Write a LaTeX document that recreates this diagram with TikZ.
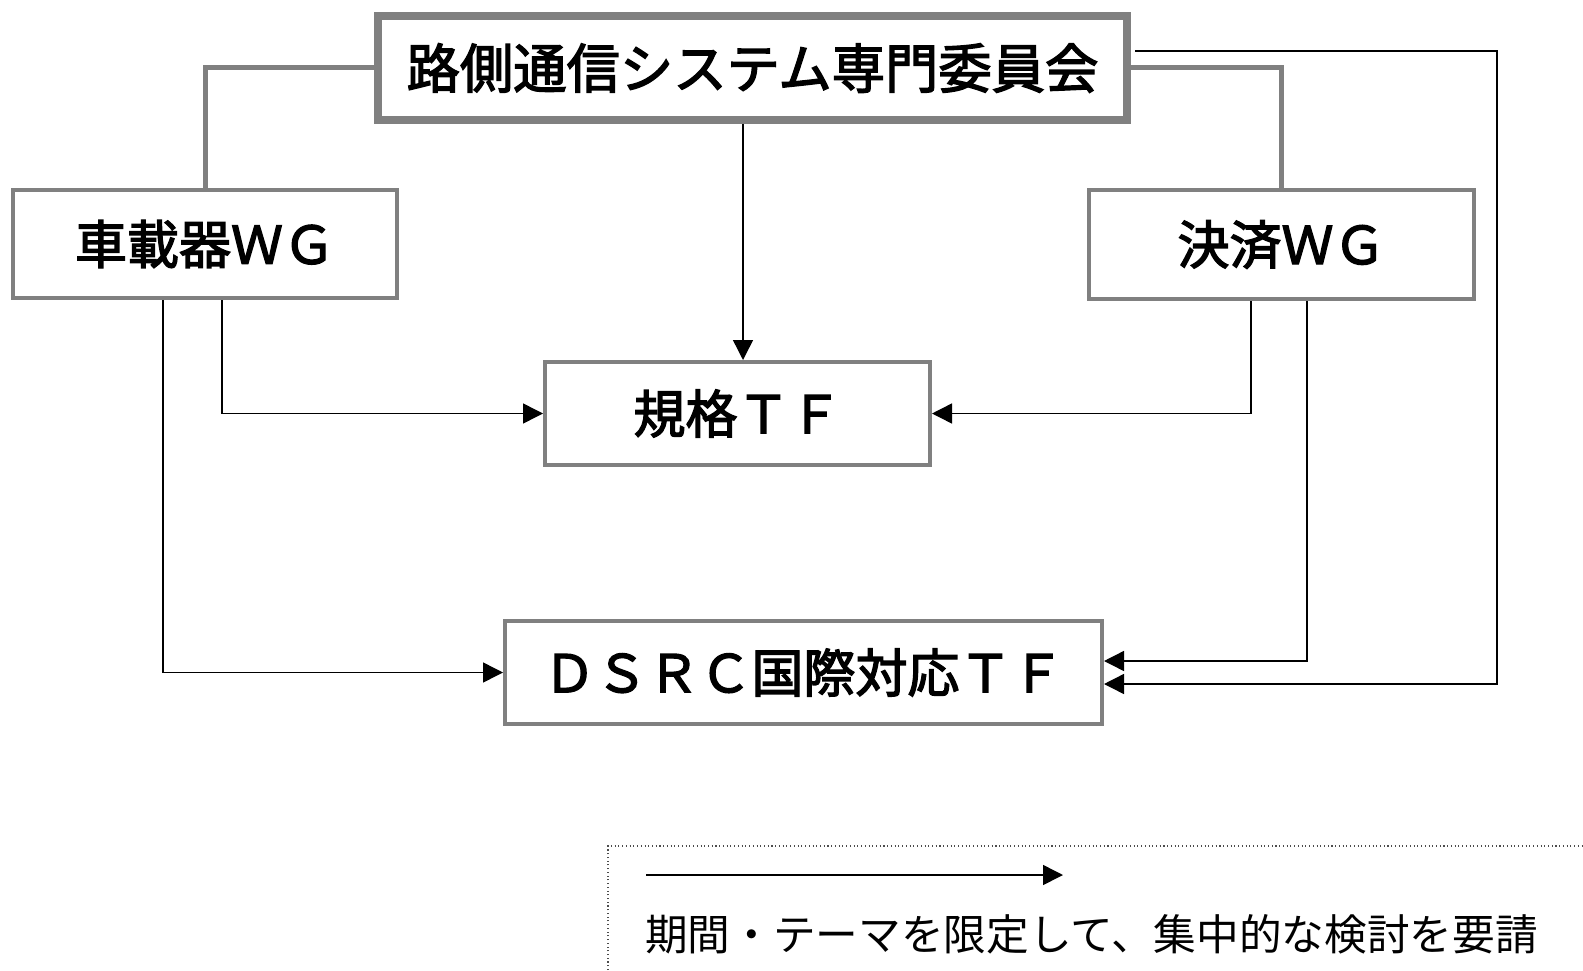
\documentclass[tikz,border=0pt]{standalone}
\usepackage{fontspec}
\newfontfamily\jp{Noto Sans CJK JP}
\newfontfamily\jpm[FakeBold=2.6]{Noto Sans CJK JP}
\usetikzlibrary{arrows.meta}
\definecolor{boxgray}{HTML}{808080}
\tikzset{
  px/.style={x=0.75pt,y=-0.75pt},
  orgbox/.style={draw=boxgray,line width=3pt,fill=white,inner sep=0pt,font=\jpm\fontsize{39}{44}\selectfont},
  topbox/.style={orgbox,line width=6pt,font=\jpm\fontsize{40}{46}\selectfont},
  tree/.style={draw=boxgray,line width=3.75pt},
  req/.style={draw=black,line width=1.1pt,-{Triangle[length=15pt,width=15pt]}},
  legendtext/.style={font=\jp\fontsize{32}{38}\selectfont,inner sep=0pt,anchor=west}
}
\begin{document}
\begin{tikzpicture}[px]
\useasboundingbox (0,0) rectangle (1583,970);
% nodes
\node[topbox,minimum width=561.75pt,minimum height=78pt] (top) at (752.5,68) {路側通信システム専門委員会};
\node[orgbox,minimum width=288pt,minimum height=81pt] (veh) at (205,244) {車載器ＷＧ};
\node[orgbox,minimum width=288.75pt,minimum height=81.75pt] (pay) at (1281.5,244.5) {決済ＷＧ};
\node[orgbox,minimum width=288.75pt,minimum height=77.25pt] (std) at (737.5,413.5) {規格ＴＦ};
\node[orgbox,minimum width=447.75pt,minimum height=77.25pt] (dsrc) at (803.5,672.5) {ＤＳＲＣ国際対応ＴＦ};
% tree lines
\draw[tree] (top.west) -| (veh.north);
\draw[tree] (top.east) -| (pay.north);
% request arrows
\draw[req] (top.south -| 743,0) -- (std.north -| 743,0);
\draw[req] (veh.south -| 222,0) |- (std.west);
\draw[req] (veh.south -| 163,0) |- (dsrc.west);
\draw[req] (pay.south -| 1251,0) |- (std.east);
\draw[req] (pay.south -| 1307,0) |- (dsrc.east |- 0,661);
\coordinate (trs) at ([xshift=3pt]top.east);
\coordinate (rc) at (1497,51);
\draw[req] (trs |- rc) -- (rc) |- (dsrc.east |- 0,684);
% legend
\draw[black!70,line width=0.8pt,dotted] (608,970) -- (608,846) -- (1583,846);
\coordinate (la) at (646,875);
\coordinate (lb) at (1063,875);
\draw[req] (la) -- (lb);
\node[legendtext] (lt) at (645,934) {期間・テーマを限定して、集中的な検討を要請};
\end{tikzpicture}
\end{document}
